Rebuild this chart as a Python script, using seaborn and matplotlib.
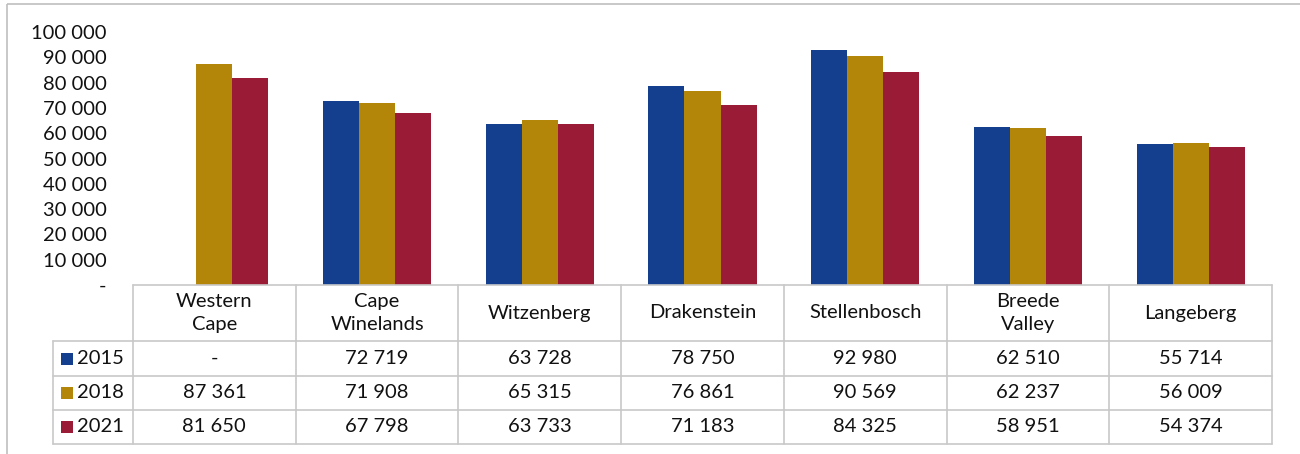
import matplotlib
matplotlib.use("Agg")
import matplotlib.pyplot as plt
import matplotlib.transforms as mtransforms
from matplotlib.patches import Rectangle
import numpy as np
import pandas as pd
import seaborn as sns

# Data
regions = ["Western\nCape", "Cape\nWinelands", "Witzenberg", "Drakenstein",
           "Stellenbosch", "Breede\nValley", "Langeberg"]
years = ["2015", "2018", "2021"]
v2015 = [np.nan, 72719, 63728, 78750, 92980, 62510, 55714]
v2018 = [87361, 71908, 65315, 76861, 90569, 62237, 56009]
v2021 = [81650, 67798, 63733, 71183, 84325, 58951, 54374]
colors = ["#143F8F", "#B3860A", "#991B35"]
yticks = [0, 10000, 20000, 30000, 40000, 50000, 60000, 70000, 80000, 90000, 100000]

sns.set_style("white")
plt.rcParams["font.family"] = ["Lato", "DejaVu Sans"]
fs = 14.5

df = pd.DataFrame({
    "region": regions * 3,
    "year": [y for y in years for _ in regions],
    "value": v2015 + v2018 + v2021,
})

W, H = 1300, 454
fig = plt.figure(figsize=(W / 100, H / 100), dpi=100)
# axes box in pixels: x 133..1272, y 32..285 (from top)
ax = fig.add_axes([133 / W, (H - 285) / H, (1272 - 133) / W, (285 - 32) / H])

sns.barplot(data=df, x="region", y="value", hue="year", palette=colors,
            width=0.664, gap=0, order=regions, hue_order=years,
            ax=ax, legend=False, saturation=1, edgecolor="none")

ax.set_xlim(-0.5, len(regions) - 0.5)
ax.set_ylim(0, 100000)
ax.set_yticks(yticks)
ax.set_yticklabels(["-"] + [f"{t:,}".replace(",", " ") for t in yticks[1:]], fontsize=fs)
ax.set_xticks([])
ax.set_xlabel("")
ax.set_ylabel("")
ax.tick_params(axis="y", length=0, pad=19, labelcolor="#111111")
for s in ax.spines.values():
    s.set_visible(False)

# pixel coordinates, origin at top left
pix = mtransforms.Affine2D().scale(1 / 100, -1 / 100).translate(0, H / 100) + fig.dpi_scale_trans

gc = "#C8C8C8"
x0, x1 = 133, 1272
legx = 53
colw = (x1 - x0) / len(regions)
rows = [285, 341, 376, 410, 444]


def hline(y, xa, xb):
    fig.add_artist(plt.Line2D([xa, xb], [y, y], transform=pix, color=gc, lw=1.2))


def vline(x, ya, yb):
    fig.add_artist(plt.Line2D([x, x], [ya, yb], transform=pix, color=gc, lw=1.2))


hline(rows[0], x0, x1)
for y in rows[1:]:
    hline(y, legx, x1)
vline(legx, rows[1], rows[-1])
for i in range(len(regions) + 1):
    vline(x0 + i * colw, rows[0], rows[-1])

for i, r in enumerate(regions):
    fig.text(x0 + (i + 0.5) * colw, (rows[0] + rows[1]) / 2, r, transform=pix,
             ha="center", va="center", fontsize=fs, linespacing=1.45, color="#111111")

series = [v2015, v2018, v2021]
for j, (yr, vals) in enumerate(zip(years, series)):
    yc = (rows[j + 1] + rows[j + 2]) / 2
    fig.add_artist(Rectangle((61, yc - 6), 12, 12, transform=pix,
                             facecolor=colors[j], edgecolor="none"))
    fig.text(77, yc, yr, transform=pix, ha="left", va="center", fontsize=fs, color="#111111")
    for i, v in enumerate(vals):
        s = "-" if np.isnan(v) else f"{int(v):,}".replace(",", " ")
        fig.text(x0 + (i + 0.5) * colw, yc, s, transform=pix,
                 ha="center", va="center", fontsize=fs, color="#111111")

# outer chart frame
fig.add_artist(Rectangle((6.5, 3.5), 1310, 470, transform=pix, fill=False,
                         edgecolor="#BFBFBF", lw=1.2))

fig.savefig("out.png", dpi=100)
